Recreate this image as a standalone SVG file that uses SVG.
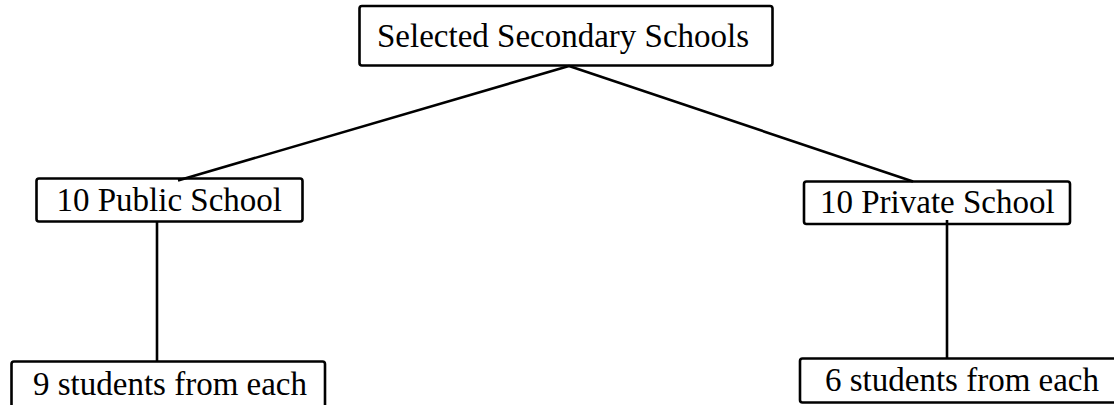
<svg xmlns="http://www.w3.org/2000/svg" width="1114" height="405" viewBox="0 0 1114 405">
<style>
.box{fill:#fff;stroke:#000;stroke-width:2.6}
.lbl{font-family:"Liberation Serif","Times New Roman",serif;font-size:33px;fill:#000}
.con{stroke:#000;stroke-width:2.6;fill:none}
</style>
<rect width="1114" height="405" fill="#fff"/>
<g id="n-top">
<rect class="box" x="359.5" y="6" width="413" height="59.5" rx="2.5"/>
<text class="lbl" x="377" y="46.5">Selected Secondary Schools</text>
</g>
<g id="n-public">
<rect class="box" x="36.5" y="178.5" width="266" height="43" rx="2.5"/>
<text class="lbl" x="56.5" y="210.5">10 Public School</text>
</g>
<g id="n-private">
<rect class="box" x="804" y="181.5" width="266" height="42.5" rx="2.5"/>
<text class="lbl" x="820" y="212.5">10 Private School</text>
</g>
<g id="n-public-students">
<rect class="box" x="11.5" y="361.5" width="313.5" height="60" rx="2.5"/>
<text class="lbl" x="33" y="395">9 students from each</text>
</g>
<g id="n-private-students">
<rect class="box" x="800" y="358.5" width="320" height="44" rx="2.5"/>
<text class="lbl" x="825" y="390.5">6 students from each</text>
</g>
<g id="connectors">
<line class="con" x1="569" y1="66" x2="178" y2="180.5"/>
<line class="con" x1="569" y1="66" x2="913" y2="181.5"/>
<line class="con" x1="157" y1="222" x2="157" y2="361"/>
<line class="con" x1="947" y1="220" x2="947" y2="358"/>
</g>
</svg>
